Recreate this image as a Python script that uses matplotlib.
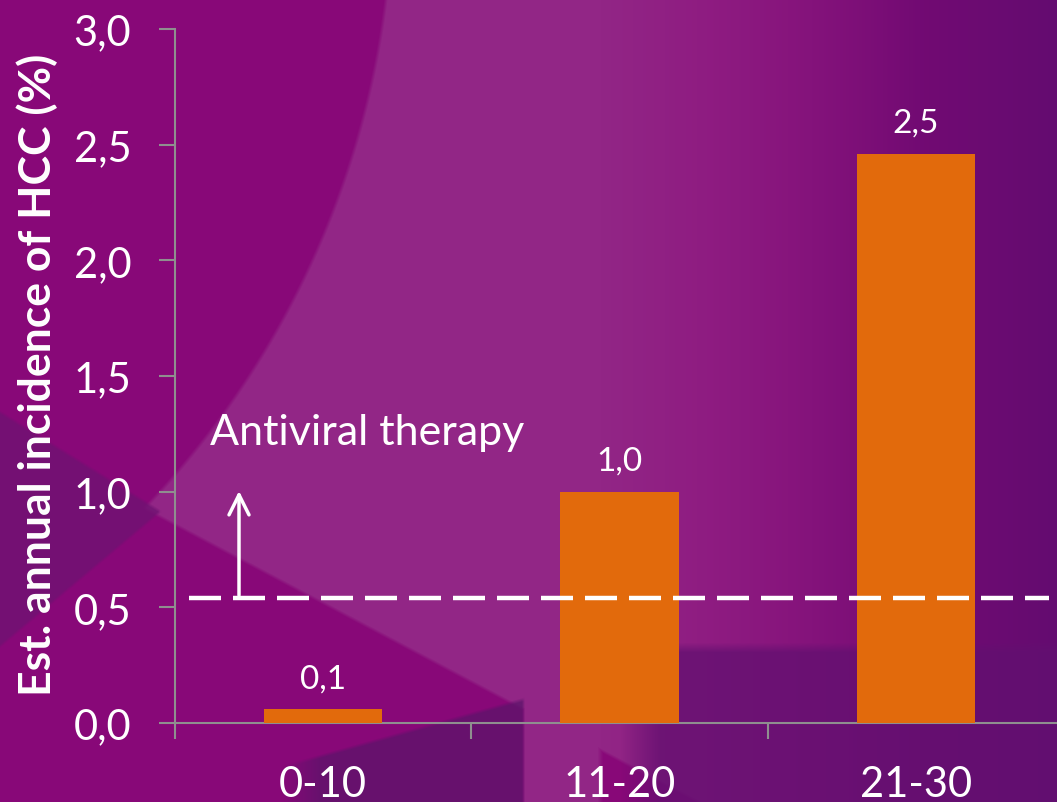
import numpy as np
import matplotlib.pyplot as plt

groups = ['0-10', '11-20', '21-30']
incidence = [0.06, 1.0, 2.46]
threshold = 0.54
y_ticks = [0.0, 0.5, 1.0, 1.5, 2.0, 2.5, 3.0]

plt.rcParams['font.family'] = ['Lato', 'DejaVu Sans']

W, H = 1057, 803
fig = plt.figure(figsize=(W / 100, H / 100), dpi=100)


def smooth(v, w):
    return np.clip(v / w + 0.5, 0, 1)


def blend(img, mask, color, k=1.0):
    m = (mask * k)[..., None]
    return img * (1 - m) + np.array(color) * m


# purple backdrop with soft curved bands
yy, xx = np.mgrid[0:H, 0:W].astype(float)
magenta = np.array([136, 8, 120])
violet = np.array([100, 12, 112])
t = np.clip((xx - 700) / 357, 0, 1)[..., None]
img = magenta * (1 - t) + violet * t

# pale lens right of the upper-left arc
outside_arc = smooth(np.hypot(xx + 499, yy + 108) - 891, 4)
above_diag = smooth(512 + 0.53 * (xx - 150) - yy, 4)
right_strip = smooth(xx - 523, 3) * np.maximum(smooth(648 - yy, 10),
                                               smooth(600 - xx, 6))
lens_shape = outside_arc * np.maximum(above_diag, right_strip)
fade = np.clip(1 - (xx - 600) / 320, 0, 1)
img = blend(img, lens_shape * fade, [146, 38, 134])

# dark wedge on the left edge
wedge = (smooth(160 - xx, 4) * smooth(yy - (512 - 0.62 * (160 - xx)), 4)
         * smooth((512 + 0.84 * (160 - xx)) - yy, 4))
img = blend(img, wedge, [112, 18, 114], 0.8)

# darker shapes along the bottom
bottom_r = smooth(xx - 640, 40) * smooth(yy - 648, 10)
img = blend(img, bottom_r, [98, 16, 112], 0.75)
bottom_m = (smooth(yy - (740 - 0.28 * (xx - 380)), 4) * smooth(523 - xx, 3)
            * smooth(xx - 300, 40))
img = blend(img, bottom_m, [92, 20, 106], 0.75)

bg = fig.add_axes([0, 0, 1, 1])
bg.imshow(np.clip(img, 0, 255).astype(np.uint8), aspect='auto')
bg.axis('off')

ax = fig.add_axes([175 / W, (H - 724) / H, 889 / W, 694 / H])
ax.patch.set_alpha(0)
x = np.arange(len(groups))
ax.bar(x, incidence, width=0.4, color='#E26A0C', zorder=3)
for xi, v in zip(x, incidence):
    ax.text(xi, v + 0.095, f'{v:.1f}'.replace('.', ','), ha='center',
            va='baseline', color='white', fontsize=24)

ax.plot([-0.452, 2.45], [threshold, threshold], color='white', lw=3.2,
        dashes=(7.2, 2.7), zorder=4)
ax.annotate('', xy=(-0.284, 1.015), xytext=(-0.284, threshold),
            arrowprops=dict(arrowstyle='->', color='white', lw=2.5,
                            mutation_scale=36))
ax.text(-0.382, 1.206, 'Antiviral therapy', color='white', fontsize=31,
        ha='left', va='baseline')

ax.set_xlim(-0.5, 2.5)
ax.set_ylim(0, 3.0)
ax.set_yticks(y_ticks)
ax.set_yticklabels([f'{v:.1f}'.replace('.', ',') for v in y_ticks])
ax.set_xticks([-0.5, 0.5, 1.5, 2.5])
ax.set_xticklabels([])
ax.set_xticks(x, minor=True)
ax.set_xticklabels(groups, minor=True)
ax.tick_params(axis='x', which='major', length=11.5, color='#8F8F8F', width=1.5)
ax.tick_params(axis='x', which='minor', length=0, pad=30, labelsize=30,
               labelcolor='white')
ax.tick_params(axis='y', length=11.5, color='#8F8F8F', width=1.5, labelsize=30,
               labelcolor='white', pad=20)
for side in ['top', 'right']:
    ax.spines[side].set_visible(False)
for side in ['left', 'bottom']:
    ax.spines[side].set_color('#8F8F8F')
    ax.spines[side].set_linewidth(1.5)

fig.text(37 / W, 1 - 375 / H, 'Est. annual incidence of HCC (%)', color='white',
         fontsize=32, fontweight='bold', rotation=90, ha='center', va='center')

fig.savefig('out.png', dpi=100)
